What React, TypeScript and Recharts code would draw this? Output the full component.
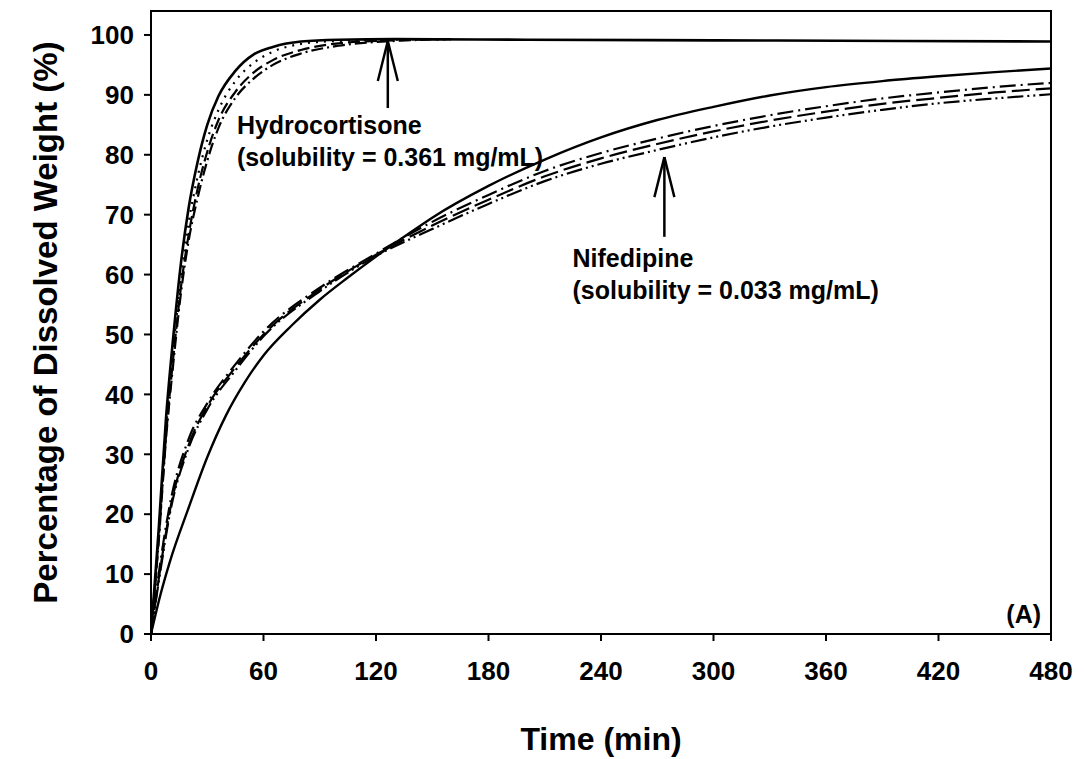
import React from "react";
import {
  LineChart,
  Line,
  XAxis,
  YAxis,
  ReferenceArea,
  ReferenceLine,
  ReferenceDot,
} from "recharts";

const FONT = "'Liberation Sans', Arial, Helvetica, sans-serif";

// axis ticks
const timeTicks = [0, 60, 120, 180, 240, 300, 360, 420, 480];
const percentTicks = [0, 10, 20, 30, 40, 50, 60, 70, 80, 90, 100];

// hydrocortisone curves (min, %)
const hydroSolidTime = [0, 4, 8, 12, 16, 20, 25, 30, 36, 45, 55, 65, 80, 100, 130, 200, 300, 400, 480];
const hydroSolidPct = [0, 17, 36, 50, 62, 71, 79, 85, 89.8, 94, 96.8, 98, 98.9, 99.2, 99.3, 99.2, 99.1, 99.0, 98.9];

const hydroTime = [0, 4, 8, 12, 16, 20, 25, 30, 36, 45, 55, 65, 80, 100, 130, 160];
const hydroDotPct = [0, 16, 34, 48, 59.5, 68.5, 76.5, 82.5, 87.5, 92.3, 95.4, 97.2, 98.5, 99.0, 99.2, 99.3];
const hydroDashPct = [0, 15.5, 33, 46.5, 58, 66.5, 74.5, 80.5, 85.8, 90.5, 93.8, 95.8, 97.5, 98.6, 99.1, 99.3];
const hydroDashDotPct = [0, 15, 32.5, 45.5, 57, 65.5, 73, 79, 84.5, 89.5, 92.8, 95, 96.9, 98.2, 99, 99.3];

// nifedipine curves (min, %)
const nifSolidTime = [0, 5, 10, 20, 30, 40, 50, 60, 75, 90, 105, 120, 135, 150, 180, 210, 240, 270, 300, 330, 360, 390, 420, 450, 480];
const nifSolidPct = [0, 6.5, 12, 21, 29.5, 36.5, 42, 46.5, 51.5, 55.8, 59.5, 63, 66.3, 69.5, 74.8, 79.2, 82.9, 85.8, 88, 89.9, 91.3, 92.3, 93.1, 93.8, 94.4];

const nifTime = [0, 5, 10, 20, 30, 45, 60, 90, 120, 150, 180, 210, 240, 270, 300, 330, 360, 390, 420, 450, 480];
const nifDashDotPct = [0, 12, 21.5, 32.5, 38.5, 45, 50.5, 57.8, 63.5, 68.8, 73.3, 77.3, 80.3, 82.7, 84.8, 86.6, 88.1, 89.4, 90.4, 91.3, 92.0];
const nifDashPct = [0, 11, 20.5, 31.5, 38, 44.5, 50, 57.5, 63.3, 68.2, 72.5, 76.4, 79.4, 81.8, 83.9, 85.7, 87.2, 88.5, 89.5, 90.4, 91.1];
const nifDashDotDotPct = [0, 10.5, 20, 31, 37.5, 44, 49.7, 57.2, 63.1, 67.6, 71.8, 75.6, 78.5, 80.8, 82.9, 84.7, 86.2, 87.5, 88.6, 89.4, 90.1];

const zip = (t: number[], v: number[]) => t.map((time, i) => ({ time, pct: v[i] }));

const series = [
  { key: "hs", data: zip(hydroSolidTime, hydroSolidPct), dash: undefined, w: 2.6 },
  { key: "hdot", data: zip(hydroTime, hydroDotPct), dash: "2 6", w: 2.2 },
  { key: "hdash", data: zip(hydroTime, hydroDashPct), dash: "12 5", w: 2.2 },
  { key: "hdd", data: zip(hydroTime, hydroDashDotPct), dash: "12 4 2 4", w: 2.2 },
  { key: "ns", data: zip(nifSolidTime, nifSolidPct), dash: undefined, w: 2.4 },
  { key: "ndd", data: zip(nifTime, nifDashDotPct), dash: "16 5 2 5", w: 2.2 },
  { key: "nd", data: zip(nifTime, nifDashPct), dash: "18 6", w: 2.2 },
  { key: "nddd", data: zip(nifTime, nifDashDotDotPct), dash: "16 4 2 4 2 4", w: 2.2 },
];

const Arrow = (props: any) => {
  const { x1, y1, x2, y2 } = props;
  const head = 40;
  const half = 10;
  return (
    <g stroke="#000" strokeWidth={2.5} fill="none">
      <line x1={x1} y1={y1} x2={x2} y2={y2} />
      <line x1={x2} y1={y2} x2={x2 - half} y2={y2 + head} />
      <line x1={x2} y1={y2} x2={x2 + half} y2={y2 + head} />
    </g>
  );
};

const note = (first: string, second: string) => (props: any) => (
  <text
    x={props.cx}
    y={props.cy}
    fontFamily={FONT}
    fontWeight={700}
    fontSize={25}
    fill="#000"
  >
    <tspan x={props.cx}>{first}</tspan>
    <tspan x={props.cx} dy={32}>
      {second}
    </tspan>
  </text>
);

const panelTag = (props: any) => (
  <text
    x={props.cx}
    y={props.cy}
    textAnchor="end"
    fontFamily={FONT}
    fontWeight={700}
    fontSize={25}
    fill="#000"
  >
    (A)
  </text>
);

export default function App() {
  const tickStyle = { fill: "#000", fontSize: 26, fontWeight: 700, fontFamily: FONT };
  const titleStyle = { fill: "#000", fontSize: 32, fontWeight: 700, fontFamily: FONT };
  return (
    <div style={{ width: 1076, height: 751 }}>
      <LineChart
        width={1076}
        height={751}
        margin={{ top: 3, right: 33, left: 0, bottom: 0 }}
      >
        <XAxis
          type="number"
          dataKey="time"
          domain={[0, 480]}
          ticks={timeTicks}
          allowDataOverflow
          height={125}
          tickSize={7}
          tickMargin={21}
          tick={tickStyle}
          axisLine={{ stroke: "#000", strokeWidth: 2 }}
          tickLine={{ stroke: "#000", strokeWidth: 2 }}
          label={{
            value: "Time (min)",
            position: "insideBottom",
            offset: 9,
            style: titleStyle,
          }}
        />
        <YAxis
          type="number"
          domain={[0, 104]}
          ticks={percentTicks}
          allowDataOverflow
          width={143}
          tickSize={7}
          tickMargin={10}
          tick={tickStyle}
          axisLine={{ stroke: "#000", strokeWidth: 2 }}
          tickLine={{ stroke: "#000", strokeWidth: 2 }}
          label={{
            value: "Percentage of Dissolved Weight (%)",
            angle: -90,
            position: "insideLeft",
            offset: 37,
            style: { ...titleStyle, fontSize: 33, textAnchor: "middle" },
          }}
        />
        <ReferenceArea x1={0} x2={480} y1={0} y2={104} fill="none" stroke="#000" strokeWidth={2} />

        {series.map((s) => (
          <Line
            key={s.key}
            data={s.data}
            dataKey="pct"
            type="monotone"
            stroke="#000"
            strokeWidth={s.w}
            strokeDasharray={s.dash}
            dot={false}
            activeDot={false}
            isAnimationActive={false}
          />
        ))}

        <ReferenceLine
          segment={[
            { x: 126.3, y: 87.8 },
            { x: 126.3, y: 99.0 },
          ]}
          shape={Arrow}
        />
        <ReferenceLine
          segment={[
            { x: 273.8, y: 66.3 },
            { x: 273.8, y: 79.6 },
          ]}
          shape={Arrow}
        />
        <ReferenceDot
          x={45.8}
          y={83.5}
          r={0}
          shape={note("Hydrocortisone", "(solubility = 0.361 mg/mL)")}
        />
        <ReferenceDot
          x={224.8}
          y={61.3}
          r={0}
          shape={note("Nifedipine", "(solubility = 0.033 mg/mL)")}
        />
        <ReferenceDot x={474.7} y={1.8} r={0} shape={panelTag} />
      </LineChart>
    </div>
  );
}
